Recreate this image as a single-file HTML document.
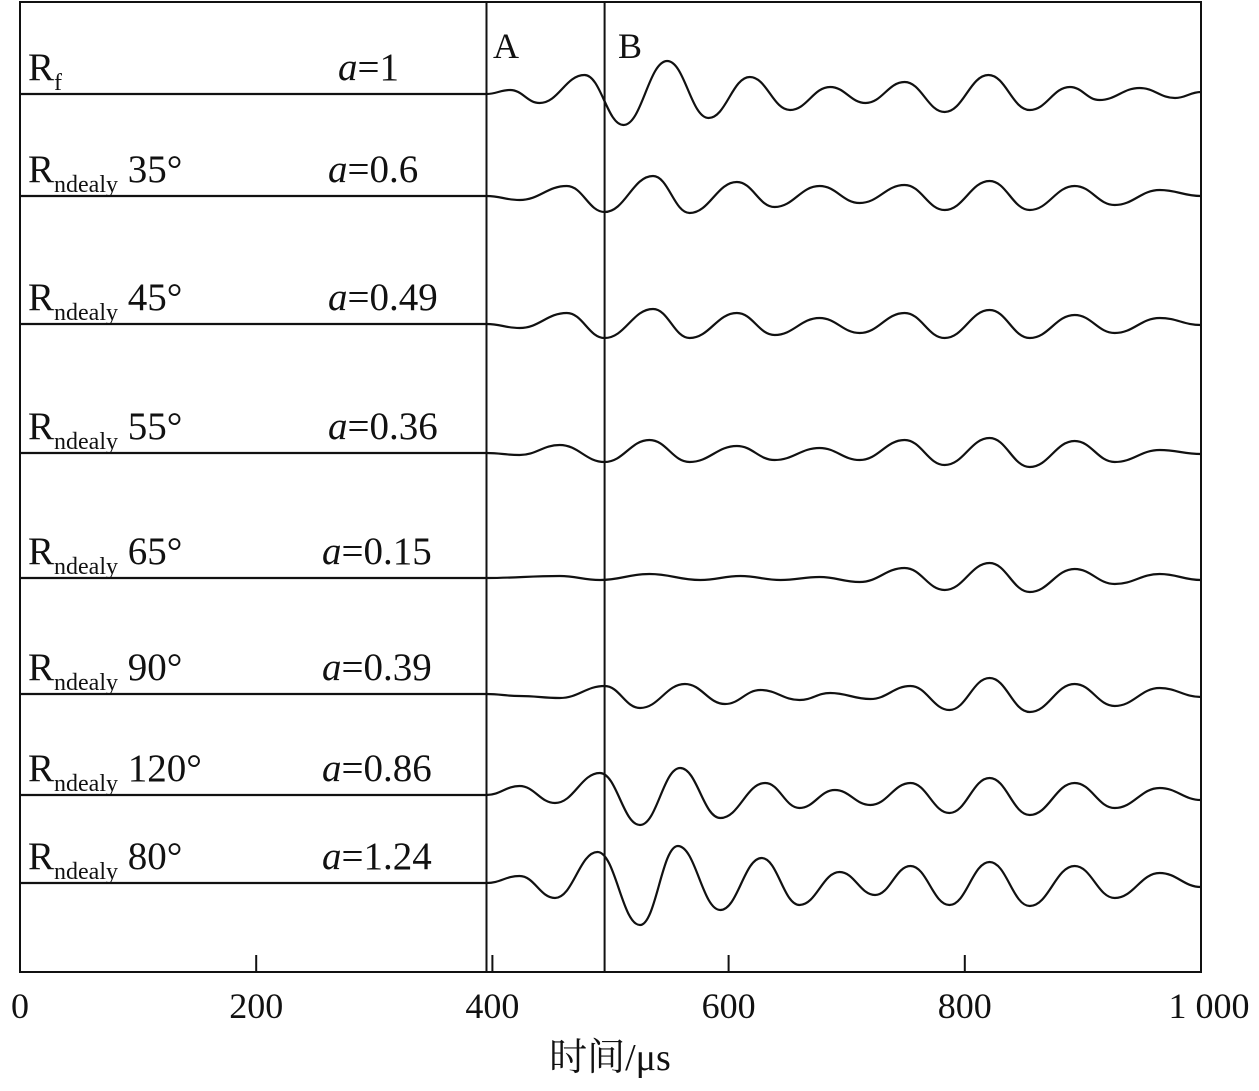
<!DOCTYPE html>
<html><head><meta charset="utf-8"><style>
body{margin:0;background:#fff;}
svg text{font-family:"Liberation Serif","Noto Serif CJK SC",serif;fill:#111;}
</style></head><body>
<svg id="c" width="1259" height="1086">
<rect x="20" y="2" width="1181" height="970" fill="none" stroke="#111" stroke-width="2"/>
<g id="ticks"></g><g id="traces"></g><g id="labels"></g>
<text x="610" y="1070" font-size="38" text-anchor="middle">时间/μs</text>
<text x="493" y="58" font-size="36">A</text>
<text x="618" y="58" font-size="36">B</text>
</svg>
<script>
const xTicks=[0,200,400,600,800,1000];
const xTickLabels=["0","200","400","600","800","1 000"];
const markerTimes=[395,495];
const traceNames=["Rf","35°","45°","55°","65°","90°","120°","80°"];
const aValues=["1","0.6","0.49","0.36","0.15","0.39","0.86","1.24"];
const baselines=[94,196,324,453,578,694,795,883];
const onset=395;
const t1=[415,440,478,511,548,583,618,652,686,716,749,783,820,855,889,914,948,978,1000];
const a1=[4,-9,19,-31,33,-24,17,-16,7,-9,12,-18,19,-16,7,-6,6,-4,2];
const t2=[423,463,495,536,567,607,639,677,711,749,783,821,855,893,927,965,1000];
const a2=[-4,10,-16,20,-17,14,-11,10,-7,11,-14,15,-14,10,-9,6,0];
const t3=[423,463,495,536,567,607,639,677,711,749,783,821,855,893,927,965,1000];
const a3=[-4,11,-14,15,-14,11,-11,6,-9,11,-14,14,-14,9,-9,6,-1];
const t4=[423,457,495,533,567,607,639,677,711,749,783,821,855,893,927,965,1000];
const a4=[-2,8,-9,13,-9,7,-7,5,-7,13,-12,15,-14,12,-9,3,-1];
const t5=[457,491,533,576,610,644,677,711,749,783,821,855,893,927,965,1000];
const a5=[2,-2,4,-2,2,-2,1,-4,10,-12,15,-14,9,-6,4,-2];
const t6=[423,457,495,525,563,597,627,660,686,720,754,787,821,855,893,927,965,1000];
const a6=[-2,-4,8,-14,10,-10,4,-6,1,-5,8,-16,16,-18,10,-12,6,-3];
const t7=[423,453,491,525,559,593,631,660,690,720,754,787,821,855,893,927,965,1000];
const a7=[9,-8,22,-30,27,-23,12,-13,5,-10,12,-18,17,-20,12,-13,7,-5];
const t8=[423,453,489,525,557,593,628,660,694,724,754,787,821,855,893,927,965,1000];
const a8=[7,-15,31,-42,37,-27,25,-22,11,-12,17,-22,21,-23,17,-15,10,-4];
const times=[t1,t2,t3,t4,t5,t6,t7,t8], amps=[a1,a2,a3,a4,a5,a6,a7,a8];
const X=t=>20+t*1.181;
const ns="http://www.w3.org/2000/svg";
function mk(tag,attrs,parent){const e=document.createElementNS(ns,tag);for(const k in attrs)e.setAttribute(k,attrs[k]);document.getElementById(parent).appendChild(e);return e;}
xTicks.forEach((t,i)=>{
  const l=mk('line',{x1:X(t),x2:X(t),y1:955,y2:972,stroke:'#111','stroke-width':2},'ticks');
  
  
  const tx=mk('text',{x:X(t)+(i==5?8:0),y:1018,'font-size':36,'text-anchor':'middle'},'ticks');
  tx.textContent=xTickLabels[i];
  
  
});
markerTimes.forEach(t=>{
  const l=mk('line',{x1:X(t),x2:X(t),y1:2,y2:972,stroke:'#111','stroke-width':2},'ticks');
  
  
});
baselines.forEach((b,i)=>{
  const pts=[[X(0),b],[X(onset),b]].concat(times[i].map((t,j)=>[X(t),b-amps[i][j]]));
  let d=`M${pts[0][0]},${pts[0][1]} L${pts[1][0]},${pts[1][1]}`;
  for(let k=1;k<pts.length-1;k++){
    const p0=pts[k],p1=pts[k+1];const mx=(p1[0]-p0[0])*0.42;
    d+=` C${p0[0]+mx},${p0[1]} ${p1[0]-mx},${p1[1]} ${p1[0]},${p1[1]}`;
  }
  const p=mk('path',{d:d,fill:'none',stroke:'#111','stroke-width':2.2},'traces');
  
  
  const lab=mk('text',{x:28,y:b-14,'font-size':39},'labels');
  if(i==0){lab.innerHTML='R<tspan font-size="24" dy="10">f</tspan>';}
  else{lab.innerHTML='R<tspan font-size="24" dy="10">ndealy</tspan><tspan dy="-10"> '+traceNames[i]+'</tspan>';}
  
  
  const al=mk('text',{x:i==0?338:(i<4?328:322),y:b-14,'font-size':39},'labels');
  al.innerHTML='<tspan font-style="italic">a</tspan>='+aValues[i];
  
  
});
</script>
</body></html>
